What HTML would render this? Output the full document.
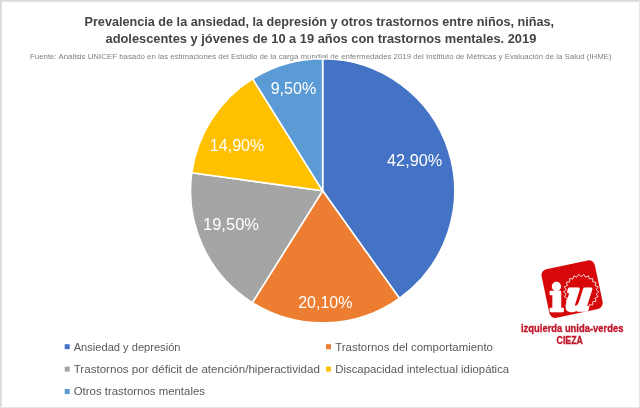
<!DOCTYPE html>
<html lang="es">
<head>
<meta charset="utf-8">
<title>Prevalencia de la ansiedad, la depresión y otros trastornos</title>
<style>
html,body{margin:0;padding:0;background:#fff;}
body{width:640px;height:408px;overflow:hidden;font-family:"Liberation Sans",sans-serif;}
svg{display:block;}
.t{font-family:"Liberation Sans",sans-serif;font-weight:bold;fill:#444;}
.s{font-family:"Liberation Sans",sans-serif;fill:#808080;}
.l{font-family:"Liberation Sans",sans-serif;fill:#fff;}
.g{font-family:"Liberation Sans",sans-serif;fill:#595959;}
.r{font-family:"Liberation Sans",sans-serif;font-weight:bold;fill:#c0182a;stroke:#c0182a;stroke-width:0.35px;}
</style>
</head>
<body>
<svg width="640" height="408" viewBox="0 0 640 408">
<rect x="0" y="0" width="640" height="408" fill="#fff"/>
<!-- frame -->
<rect x="0" y="0" width="640" height="1.75" fill="#d9d9d9"/>
<rect x="0" y="0" width="1.75" height="408" fill="#d9d9d9"/>
<rect x="0" y="407" width="640" height="1" fill="#e6e6e6"/>
<rect x="639.1" y="0" width="0.9" height="408" fill="#e2e2e2"/>
<!-- title -->
<text class="t" x="84.5" y="26" font-size="13.1" textLength="469.6" lengthAdjust="spacingAndGlyphs">Prevalencia de la ansiedad, la depresión y otros trastornos entre niños, niñas,</text>
<text class="t" x="105.5" y="42.8" font-size="13.1" textLength="430.8" lengthAdjust="spacingAndGlyphs">adolescentes y jóvenes de 10 a 19 años con trastornos mentales. 2019</text>
<text class="s" x="30" y="58.7" font-size="8" textLength="581.7" lengthAdjust="spacingAndGlyphs">Fuente: Análisis UNICEF basado en las estimaciones del Estudio de la carga mundial de enfermedades 2019 del Instituto de Métricas y Evaluación de la Salud (IHME)</text>
<!-- pie -->
<path d="M322.65 190.80L322.65 58.70A132.1 132.1 0 0 1 399.41 298.31Z" fill="#4472C4" stroke="#fff" stroke-width="1.6" stroke-linejoin="round"/>
<path d="M322.65 190.80L399.41 298.31A132.1 132.1 0 0 1 252.33 302.63Z" fill="#ED7D31" stroke="#fff" stroke-width="1.6" stroke-linejoin="round"/>
<path d="M322.65 190.80L252.33 302.63A132.1 132.1 0 0 1 191.78 172.80Z" fill="#A5A5A5" stroke="#fff" stroke-width="1.6" stroke-linejoin="round"/>
<path d="M322.65 190.80L191.78 172.80A132.1 132.1 0 0 1 252.66 78.76Z" fill="#FFC000" stroke="#fff" stroke-width="1.6" stroke-linejoin="round"/>
<path d="M322.65 190.80L252.66 78.76A132.1 132.1 0 0 1 322.65 58.70Z" fill="#5B9BD5" stroke="#fff" stroke-width="1.6" stroke-linejoin="round"/>
<!-- labels -->
<text class="l" x="387" y="165.8" font-size="15.8" textLength="55.3" lengthAdjust="spacingAndGlyphs">42,90%</text>
<text class="l" x="298.2" y="308" font-size="15.8" textLength="54.3" lengthAdjust="spacingAndGlyphs">20,10%</text>
<text class="l" x="203" y="230.4" font-size="15.8" textLength="56" lengthAdjust="spacingAndGlyphs">19,50%</text>
<text class="l" x="209.8" y="151.4" font-size="15.8" textLength="54.5" lengthAdjust="spacingAndGlyphs">14,90%</text>
<text class="l" x="270.7" y="93.7" font-size="15.8" textLength="45.5" lengthAdjust="spacingAndGlyphs">9,50%</text>
<!-- legend -->
<rect x="64.7" y="344.2" width="5" height="5" fill="#4472C4"/>
<text class="g" x="73.7" y="350.5" font-size="10.9" textLength="106.8" lengthAdjust="spacingAndGlyphs">Ansiedad y depresión</text>
<rect x="326" y="344.2" width="5" height="5" fill="#ED7D31"/>
<text class="g" x="335.2" y="350.5" font-size="10.9" textLength="157.8" lengthAdjust="spacingAndGlyphs">Trastornos del comportamiento</text>
<rect x="64.7" y="366.6" width="5" height="5" fill="#A5A5A5"/>
<text class="g" x="73.7" y="372.6" font-size="10.9" textLength="246.2" lengthAdjust="spacingAndGlyphs">Trastornos por déficit de atención/hiperactividad</text>
<rect x="326" y="366.6" width="5" height="5" fill="#FFC000"/>
<text class="g" x="335.2" y="372.6" font-size="10.9" textLength="174" lengthAdjust="spacingAndGlyphs">Discapacidad intelectual idiopática</text>
<rect x="64.7" y="389" width="5" height="5" fill="#5B9BD5"/>
<text class="g" x="73.7" y="395" font-size="10.9" textLength="131.3" lengthAdjust="spacingAndGlyphs">Otros trastornos mentales</text>
<!-- logo -->
<g transform="translate(572.1 289.1) rotate(-12)">
<rect x="-27.2" y="-24.8" width="54.4" height="49.6" rx="6" ry="6" fill="#d7080a"/>
</g>
<path d="M598.8 291.8L596.2 294.0L598.1 296.8L595.0 298.1L596.0 301.3L592.7 301.8L592.7 305.1L589.4 304.6L588.5 307.8L585.5 306.4L583.7 309.2L581.2 307.0L578.7 309.2L576.9 306.4L573.9 307.8L573.0 304.6L569.7 305.1L569.7 301.8L566.4 301.3L567.4 298.1L564.3 296.8L566.2 294.0L563.6 291.8L566.2 289.6L564.3 286.8L567.4 285.5L566.4 282.3L569.7 281.8L569.7 278.5L573.0 279.0L573.9 275.8L576.9 277.2L578.7 274.4L581.2 276.6L583.7 274.4L585.5 277.2L588.5 275.8L589.4 279.0L592.7 278.5L592.7 281.8L596.0 282.3L595.0 285.5L598.1 286.8L596.2 289.6Z" fill="none" stroke="#fff" stroke-width="0.9" stroke-opacity="0.9" stroke-linejoin="round"/>
<text x="549.6" y="311.2" font-family="'DejaVu Serif','Liberation Serif',serif" font-weight="bold" font-size="37.5" fill="#fff" stroke="#fff" stroke-width="2.3" stroke-linejoin="round">i</text>
<text transform="translate(563.8 309.6) skewX(-8) scale(0.9 1)" font-family="'DejaVu Serif','Liberation Serif',serif" font-weight="bold" font-style="italic" font-size="40" fill="#fff" stroke="#fff" stroke-width="3.4" stroke-linejoin="round">u</text>
<text class="r" x="521" y="331.5" font-size="11" textLength="102.4" lengthAdjust="spacingAndGlyphs">izquierda unida-verdes</text>
<text class="r" x="556.6" y="344" font-size="10.5" textLength="26.3" lengthAdjust="spacingAndGlyphs">CIEZA</text>
</svg>
</body>
</html>
